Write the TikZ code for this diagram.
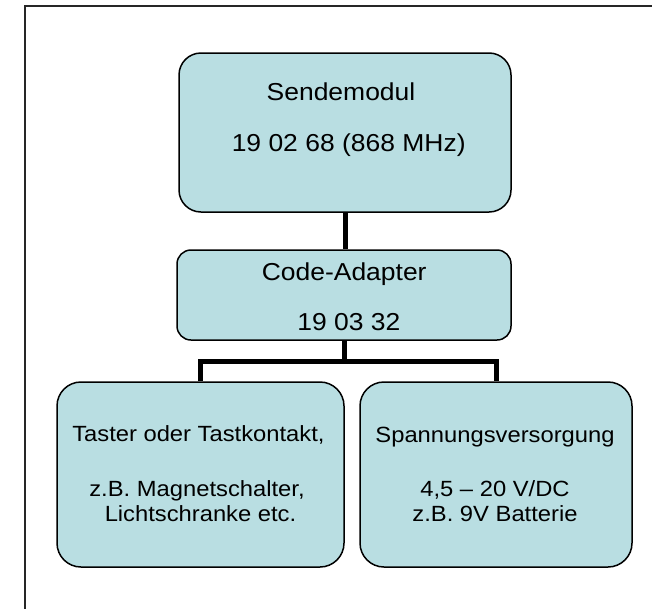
\documentclass[tikz,border=0pt]{standalone}
\usepackage{fontspec}
\newfontfamily\boxfont[FakeStretch=1.08]{Liberation Sans}
\definecolor{boxfill}{RGB}{185,222,226}
\tikzset{
  box/.style={draw=black, line width=1.5pt, fill=boxfill, inner sep=0pt},
  conn/.style={draw=black, line width=5pt},
  bigtxt/.style={anchor=base, inner sep=0pt, font=\boxfont\fontsize{24.5}{28}\selectfont},
  smalltxt/.style={anchor=base, inner sep=0pt, font=\boxfont\fontsize{22}{26}\selectfont},
  frame/.style={draw=black!85, line width=1.6pt}
}
\begin{document}
\begin{tikzpicture}[x=1pt,y=-1pt]
\useasboundingbox (0,0) rectangle (652,608);
\fill[white] (0,0) rectangle (652,608);
\draw[frame] (25,610) -- (25,6) -- (654,6);

\node[box, rounded corners=22pt, minimum width=332pt, minimum height=159pt] (top) at (345,132.5) {};
\node[box, rounded corners=14pt, minimum width=334pt, minimum height=90pt] (code) at (344,295) {};
\node[box, rounded corners=24pt, minimum width=287pt, minimum height=185pt] (left) at (200.5,474.5) {};
\node[box, rounded corners=24pt, minimum width=272pt, minimum height=185pt] (right) at (496,474.5) {};

\coordinate (j) at (344,361);
\draw[conn] (top.south) -- (top.south |- code.north);
\draw[conn] (code.south) -- (j);
\draw[conn] (left.north) |- (j) -| (right.north);

\node[bigtxt] (t1) at (341,100.7) {Sendemodul};
\node[bigtxt] (t2) at (348.7,151.7) {19 02 68 (868 MHz)};
\node[bigtxt] (c1) at (344.2,280) {Code-Adapter};
\node[bigtxt] (c2) at (348.8,330.5) {19 03 32};

\node[smalltxt] (l1) at (198.4,441) {Taster oder Tastkontakt,};
\node[smalltxt] (l2) at (197,496) {z.B. Magnetschalter,};
\node[smalltxt] (l3) at (200.5,521) {Lichtschranke etc.};

\node[smalltxt] (r1) at (495,442) {Spannungsversorgung};
\node[smalltxt] (r2) at (495,496) {4,5 – 20 V/DC};
\node[smalltxt] (r3) at (495,521) {z.B. 9V Batterie};
\end{tikzpicture}
\end{document}
